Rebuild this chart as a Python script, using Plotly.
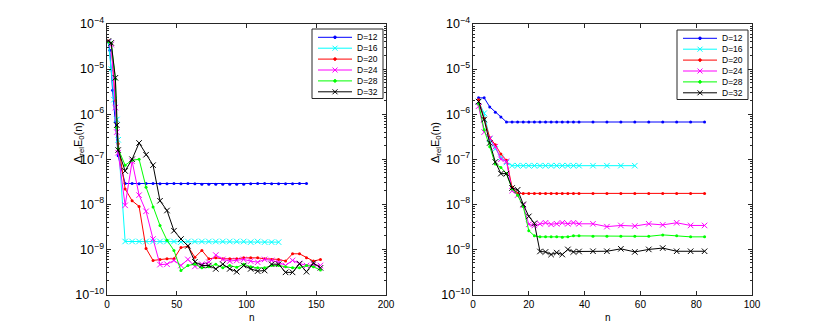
import plotly.graph_objects as go

# ---------------- data ----------------
labels = ["D=12", "D=16", "D=20", "D=24", "D=28", "D=32"]
colors = ["#0000ff", "#00ffff", "#ff0000", "#ff00ff", "#00ff00", "#000000"]
symbols = ["circle", "x-thin", "circle", "x-thin", "circle", "x-thin"]

# Left panel
nL_12 = [1, 2, 4, 6, 8, 13, 18, 23, 28, 33, 38, 43, 48, 53, 58, 63, 68, 73, 78, 83, 88, 93, 98, 103,
         108, 113, 118, 123, 128, 133, 138, 143]
yL_12 = [4.0e-5, 2.6e-5, 3.4e-6, 6.8e-7, 1.2e-7, 2.9e-8, 2.9e-8, 2.85e-8, 2.9e-8, 2.9e-8, 2.85e-8,
         2.85e-8, 2.9e-8, 2.85e-8, 2.9e-8, 2.85e-8, 2.8e-8, 2.8e-8, 2.8e-8, 2.8e-8, 2.8e-8, 2.8e-8,
         2.8e-8, 2.85e-8, 2.9e-8, 2.9e-8, 2.85e-8, 2.85e-8, 2.85e-8, 2.85e-8, 2.9e-8, 2.9e-8]

nL_16 = [1, 3, 5, 7, 8, 13, 18, 23, 28, 33, 38, 43, 48, 53, 58, 63, 68, 73, 78, 83, 88, 93, 98, 103,
         108, 113, 118, 123]
yL_16 = [4.0e-5, 1.0e-5, 2.1e-6, 7.6e-7, 2.7e-7, 1.5e-9, 1.5e-9, 1.5e-9, 1.5e-9, 1.5e-9, 1.5e-9,
         1.5e-9, 1.5e-9, 1.45e-9, 1.5e-9, 1.5e-9, 1.5e-9, 1.5e-9, 1.5e-9, 1.5e-9, 1.5e-9, 1.5e-9,
         1.5e-9, 1.45e-9, 1.5e-9, 1.45e-9, 1.45e-9, 1.45e-9]

nL_long = [13, 18, 23, 28, 33, 38, 43, 48, 53, 58, 63, 68, 73, 78, 83, 88, 93, 98, 103, 108, 113,
           118, 123, 128, 133, 138, 143, 148, 153]

nL_20 = [1, 3, 6, 8] + nL_long
yL_20 = [4.2e-5, 3.6e-5, 2.0e-6, 2.2e-7,
         2.2e-8, 1.2e-8, 9.0e-9, 1.05e-9, 5.7e-10, 6.0e-10, 6.2e-10, 6.2e-10, 1.1e-9, 1.17e-9,
         6.7e-10, 9.5e-10, 6.2e-10, 6.5e-10, 6.2e-10, 6.2e-10, 6.2e-10, 6.5e-10, 6.5e-10, 6.5e-10,
         6.2e-10, 6.0e-10, 6.0e-10, 5.5e-10, 8.0e-10, 8.0e-10, 6.5e-10, 5.5e-10, 6.0e-10]

nL_24 = [1, 3, 6, 7, 8] + nL_long
yL_24 = [4.0e-5, 3.5e-5, 1.4e-6, 4.0e-7, 1.4e-7,
         9.5e-9, 9.0e-8, 1.6e-8, 7.0e-9, 1.7e-9, 4.6e-10, 4.7e-10, 5.7e-10, 4.4e-10, 6.0e-10,
         4.2e-10, 4.7e-10, 5.2e-10, 7.5e-10, 6.0e-10, 5.5e-10, 5.7e-10, 6.0e-10, 5.5e-10, 5.2e-10,
         6.0e-10, 5.7e-10, 5.2e-10, 4.4e-10, 5.7e-10, 4.9e-10, 4.4e-10, 4.6e-10, 4.4e-10]

nL_28 = [1, 3, 6, 7, 8] + nL_long
yL_28 = [4.0e-5, 3.8e-5, 6.0e-6, 5.0e-7, 1.7e-7,
         7.4e-8, 9.5e-8, 1.0e-7, 2.4e-8, 8.7e-9, 3.4e-9, 1.6e-9, 9.5e-10, 3.4e-10, 4.4e-10,
         4.7e-10, 3.9e-10, 4.1e-10, 4.7e-10, 3.9e-10, 4.4e-10, 4.0e-10, 4.7e-10, 4.1e-10, 3.9e-10,
         3.9e-10, 4.4e-10, 4.4e-10, 4.1e-10, 3.9e-10, 3.9e-10, 4.4e-10, 4.1e-10, 3.5e-10]

nL_32 = [1, 3, 6, 7, 8] + nL_long
yL_32 = [4.2e-5, 3.8e-5, 6.4e-6, 5.7e-7, 1.6e-7,
         5.5e-8, 1.0e-7, 2.3e-7, 1.26e-7, 7.4e-8, 1.2e-8, 7.3e-9, 2.6e-9, 1.7e-9, 1.2e-9,
         5.3e-10, 4.4e-10, 4.4e-10, 3.7e-10, 4.7e-10, 3.7e-10, 3.2e-10, 4.4e-10, 3.7e-10, 3.3e-10,
         3.4e-10, 4.7e-10, 4.7e-10, 3.1e-10, 3.1e-10, 4.8e-10, 3.2e-10, 5.0e-10, 3.9e-10]

# Right panel
nR = [2, 4, 6, 8, 10, 12, 14, 16, 18, 20, 22, 24, 26, 28, 30, 32, 34, 36, 38,
      43, 48, 53, 58, 63, 68, 73, 78, 83]
yR_12 = [2.3e-6, 2.3e-6, 1.45e-6, 1.1e-6, 8.7e-7, 6.7e-7, 6.7e-7, 6.7e-7, 6.7e-7, 6.7e-7, 6.7e-7,
         6.7e-7, 6.7e-7, 6.7e-7, 6.7e-7, 6.7e-7, 6.7e-7, 6.7e-7, 6.7e-7,
         6.7e-7, 6.7e-7, 6.7e-7, 6.7e-7, 6.7e-7, 6.7e-7, 6.7e-7, 6.7e-7, 6.7e-7]
nR_16 = [2, 4, 6, 8, 10, 12, 14, 16, 18, 20, 22, 24, 26, 28, 30, 32, 34, 36, 38, 43, 48, 53, 58]
yR_16 = [1.9e-6, 1.05e-6, 2.8e-7, 1.7e-7, 1.1e-7, 8.5e-8, 7.2e-8, 7.2e-8, 7.2e-8, 7.2e-8, 7.2e-8,
         7.2e-8, 7.2e-8, 7.2e-8, 7.2e-8, 7.2e-8, 7.2e-8, 7.2e-8, 7.2e-8, 7.2e-8, 7.2e-8, 7.2e-8, 7.2e-8]
yR_20 = [2.1e-6, 8.0e-7, 3.0e-7, 2.1e-7, 1.3e-7, 9.5e-8, 2.4e-8, 1.75e-8, 1.75e-8, 1.75e-8, 1.75e-8,
         1.75e-8, 1.75e-8, 1.75e-8, 1.75e-8, 1.75e-8, 1.75e-8, 1.75e-8, 1.75e-8,
         1.75e-8, 1.75e-8, 1.75e-8, 1.75e-8, 1.75e-8, 1.75e-8, 1.75e-8, 1.75e-8, 1.75e-8]
yR_24 = [1.5e-6, 4.0e-7, 2.9e-7, 1.9e-7, 1.0e-7, 9.0e-8, 2.0e-8, 1.6e-8, 9.5e-9, 3.6e-9, 3.4e-9,
         3.7e-9, 3.9e-9, 3.6e-9, 3.7e-9, 3.9e-9, 3.7e-9, 3.9e-9, 3.7e-9,
         3.7e-9, 3.2e-9, 3.4e-9, 3.3e-9, 3.7e-9, 3.5e-9, 3.9e-9, 3.4e-9, 3.4e-9]
yR_28 = [1.7e-6, 4.5e-7, 1.9e-7, 7.8e-8, 6.6e-8, 4.8e-8, 2.2e-8, 1.6e-8, 9.0e-9, 2.6e-9, 2.0e-9,
         1.9e-9, 1.9e-9, 1.9e-9, 1.9e-9, 1.85e-9, 1.9e-9, 2.0e-9, 2.0e-9,
         1.95e-9, 1.95e-9, 1.95e-9, 1.95e-9, 1.95e-9, 2.1e-9, 2.0e-9, 1.9e-9, 1.9e-9]
yR_32 = [1.9e-6, 7.6e-7, 2.3e-7, 8.7e-8, 4.8e-8, 4.8e-8, 2.3e-8, 2.1e-8, 1.0e-8, 5.4e-9, 3.8e-9,
         9.0e-10, 8.8e-10, 7.7e-10, 8.5e-10, 7.7e-10, 1.0e-9, 8.8e-10, 9.0e-10,
         9.1e-10, 9.1e-10, 1.03e-9, 8.8e-10, 1.0e-9, 1.07e-9, 9.1e-10, 9.1e-10, 9.1e-10]

left_series = [(nL_12, yL_12), (nL_16, yL_16), (nL_20, yL_20), (nL_24, yL_24), (nL_28, yL_28), (nL_32, yL_32)]
right_series = [(nR, yR_12), (nR_16, yR_16), (nR, yR_20), (nR, yR_24), (nR, yR_28), (nR, yR_32)]

x_ticks_left = [0, 50, 100, 150, 200]
x_ticks_right = [0, 20, 40, 60, 80, 100]

# ---------------- figure ----------------
# The page body has an 8px default margin, so the figure is drawn 8px in from
# the window's top-left corner; all target pixel positions are shifted by OFF.
OFF = 8
W, H = 814, 317
FONT = "Liberation Sans, Arial, Helvetica, sans-serif"
AX = "#262626"


def marker_for(sym, c):
    if sym == "circle":
        return dict(symbol="circle", size=3, color=c, line=dict(width=0))
    return dict(symbol="x-thin", size=5.5, color=c, line=dict(color=c, width=1))


fig = go.Figure()
for (xs, ys), c, s, lab in zip(left_series, colors, symbols, labels):
    fig.add_trace(go.Scatter(x=xs, y=ys, mode="lines+markers", name=lab, xaxis="x", yaxis="y",
                             line=dict(color=c, width=1), marker=marker_for(s, c), showlegend=False))
for (xs, ys), c, s, lab in zip(right_series, colors, symbols, labels):
    fig.add_trace(go.Scatter(x=xs, y=ys, mode="lines+markers", name=lab, xaxis="x2", yaxis="y2",
                             line=dict(color=c, width=1), marker=marker_for(s, c), showlegend=False))

# plot area geometry (window pixels)
L1, R1 = 107, 386
L2, R2 = 473, 752
TOP, BOT = 24, 294.5


def px(v):
    return (v - OFF) / W


def py(v):
    return 1 - (v - OFF) / H


common_x = dict(showgrid=False, zeroline=False, showline=True, linecolor=AX, linewidth=1, mirror="allticks",
                ticks="inside", ticklen=4, tickcolor=AX, automargin=False,
                tickfont=dict(family=FONT, size=10, color="#000"))
common_y = dict(type="log", range=[-10, -4], dtick=1, exponentformat="power", showexponent="all",
                showgrid=False, zeroline=False, showline=True, linecolor=AX, linewidth=1, mirror="allticks",
                ticks="inside", ticklen=4, tickcolor=AX, automargin=False,
                tickfont=dict(family=FONT, size=10, color="#000"),
                minor=dict(ticks="inside", ticklen=2, tickcolor=AX, dtick="D1", showgrid=False))

fig.update_layout(
    template="none",
    width=W, height=H, margin=dict(l=0, r=0, t=0, b=0, pad=0), autosize=False,
    paper_bgcolor="white", plot_bgcolor="white", showlegend=False,
    xaxis=dict(domain=[px(L1), px(R1)], range=[0, 200], tickvals=x_ticks_left, anchor="y", **common_x),
    yaxis=dict(domain=[py(BOT), py(TOP)], anchor="x", **common_y),
    xaxis2=dict(domain=[px(L2), px(R2)], range=[0, 100], tickvals=x_ticks_right, anchor="y2", **common_x),
    yaxis2=dict(domain=[py(BOT), py(TOP)], anchor="x2", **common_y),
)

annotations = []
shapes = []
# axis titles
for cx in [(L1 + R1) / 2, (L2 + R2) / 2]:
    annotations.append(dict(x=px(cx), y=py(317), xref="paper", yref="paper", text="n", showarrow=False,
                            yanchor="middle", font=dict(family=FONT, size=10, color="#000")))
for cx in [70, 436]:
    annotations.append(dict(x=px(cx), y=py(143), xref="paper", yref="paper",
                            text="Δ<sub>rel</sub>E<sub>0</sub>(n)",
                            textangle=-90, showarrow=False, font=dict(family=FONT, size=11, color="#000")))

# manual legends (drawn in window pixels)
row_step = 10.9
for bx, by in [(312, 29), (677, 30)]:
    shapes.append(dict(type="rect", xref="paper", yref="paper", x0=px(bx), x1=px(bx + 71),
                       y0=py(by + 69.5), y1=py(by), line=dict(color=AX, width=1), fillcolor="white",
                       layer="above"))
    for i, (c, s, lab) in enumerate(zip(colors, symbols, labels)):
        yc = by + 8.3 + i * row_step
        shapes.append(dict(type="line", xref="paper", yref="paper", x0=px(bx + 6), x1=px(bx + 40),
                           y0=py(yc), y1=py(yc), line=dict(color=c, width=1), layer="above"))
        mx = bx + 23
        if s == "circle":
            r = 1.3
            shapes.append(dict(type="circle", xref="paper", yref="paper", x0=px(mx - r), x1=px(mx + r),
                               y0=py(yc + r), y1=py(yc - r), line=dict(color=c, width=1), fillcolor=c,
                               layer="above"))
        else:
            d = 2.5
            for sgn in (1, -1):
                shapes.append(dict(type="line", xref="paper", yref="paper", x0=px(mx - d), x1=px(mx + d),
                                   y0=py(yc - sgn * d), y1=py(yc + sgn * d), line=dict(color=c, width=1),
                                   layer="above"))
        annotations.append(dict(x=px(bx + 43), y=py(yc), xref="paper", yref="paper", text=lab,
                                xanchor="left", yanchor="middle", showarrow=False,
                                font=dict(family=FONT, size=8.5, color="#000")))

fig.update_layout(annotations=annotations, shapes=shapes)
fig.write_html("out.html")
